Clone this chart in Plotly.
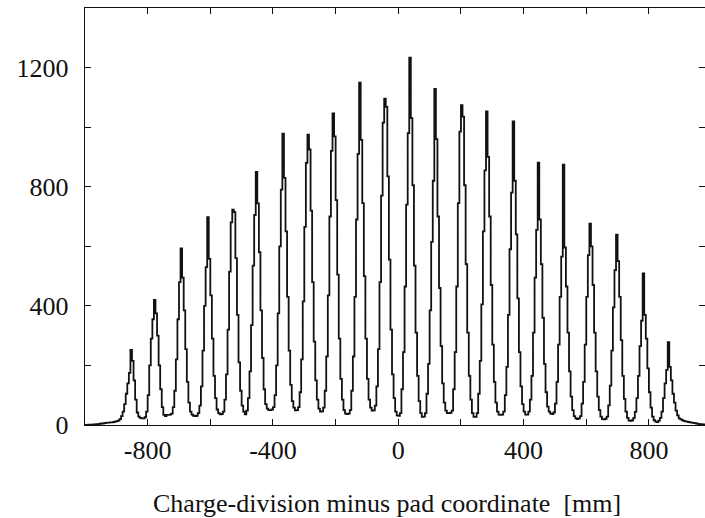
import plotly.graph_objects as go

# Histogram: 5 mm bins starting at -1000 mm (counts)
bin_start_mm = -1000
bin_width_mm = 5

counts_a = [  # bins -1000 .. -485 mm (left tail, peaks 1-5)
    0, 0, 1, 1, 1, 2, 2, 3, 3, 4, 5, 5, 6, 7, 8, 8, 9, 9, 10, 11, 13, 15, 20,
    30, 45, 70, 105, 140, 175, 252, 215, 150, 85, 42, 28, 24, 22,
    22,
    26, 45, 100, 200, 290, 355, 420, 375, 300, 200, 120, 60, 34, 30,
    34, 34, 35,
    38, 60, 115, 220, 355, 480, 593, 495, 385, 255, 145, 75, 45, 35,
    31, 30, 31,
    40, 65, 130, 250, 400, 530, 698, 558, 435, 290, 165, 90, 52, 40,
    36, 37,
    45, 85, 170, 320, 515, 680, 723, 715, 560, 370, 210, 115, 65, 45,
    36,
]
counts_b = [  # bins -485 .. 0 mm (peaks 6-11)
    48, 90, 180, 335, 535, 705, 850, 744, 580, 385, 225, 120, 70, 55,
    50, 50, 52,
    60, 100, 200, 375, 600, 790, 978, 830, 650, 430, 250, 135, 80, 58,
    49, 50,
    60, 110, 220, 415, 665, 880, 975, 925, 720, 480, 280, 150, 85, 55,
    45, 46,
    58, 115, 230, 435, 700, 920, 1046, 969, 755, 505, 290, 155, 85, 50,
    38, 37, 38,
    50, 115, 230, 430, 690, 910, 1149, 957, 745, 500, 290, 155, 85, 58,
    48, 49,
    65, 130, 255, 480, 770, 1015, 1096, 1068, 835, 555, 320, 170, 90, 45,
    32, 31,
]
counts_c = [  # bins 5 .. 495 mm (peaks 12-17)
    40, 120, 245, 465, 740, 980, 1233, 1030, 805, 535, 310, 165, 80, 40,
    27, 28,
    40, 105, 205, 385, 615, 820, 1128, 960, 700, 460, 265, 140, 75, 48,
    40, 40, 41,
    48, 120, 245, 465, 745, 985, 1074, 1035, 805, 540, 310, 165, 85, 40,
    27, 27,
    40, 105, 215, 405, 650, 855, 1053, 900, 700, 470, 270, 145, 75, 45,
    35, 34, 35,
    45, 100, 195, 370, 590, 780, 1019, 820, 640, 425, 245, 130, 70, 45,
    35, 35,
    45, 85, 165, 310, 495, 655, 881, 690, 540, 360, 205, 110, 62, 45,
    38, 37,
]
counts_d = [  # bins 495 .. 1000 mm (peaks 18-22, right tail)
    42, 72, 145, 270, 430, 565, 874, 596, 465, 310, 180, 95, 50, 30,
    22, 20, 22,
    30, 72, 145, 270, 430, 570, 676, 600, 470, 310, 180, 95, 50, 28,
    20, 19, 21,
    28, 66, 132, 250, 395, 520, 639, 550, 430, 285, 165, 88, 45, 24,
    15, 14, 16,
    24, 44, 90, 165, 265, 350, 509, 370, 290, 190, 110, 58, 28, 16,
    11, 10,
    15, 24, 45, 90, 140, 185, 278, 195, 150, 105, 75, 48, 32, 22,
    19, 16, 14, 12, 11, 10, 9, 8, 7, 6, 5, 4, 3, 3, 2, 2, 1, 1, 0, 0,
]

x_tick_vals = [-800, -600, -400, -200, 0, 200, 400, 600, 800]
x_tick_text = ["-800", "", "-400", "", "0", "", "400", "", "800"]
y_tick_vals = [0, 200, 400, 600, 800, 1000, 1200]
y_tick_text = ["0", "", "400", "", "800", "", "1200"]
x_title = "Charge-division minus pad coordinate \u00a0[mm]"

counts = counts_a + counts_b + counts_c + counts_d
edges = [bin_start_mm + bin_width_mm * i for i in range(len(counts) + 1)]
xs = edges
ys = counts + [counts[-1]]

FONT = "Liberation Serif, Times New Roman, serif"
INK = "#111111"

fig = go.Figure()
fig.add_trace(go.Scatter(
    x=xs, y=ys, mode="lines",
    line=dict(color=INK, width=1.8, shape="hv"),
    showlegend=False, hoverinfo="skip",
))
# invisible trace to anchor the right-hand tick axis
fig.add_trace(go.Scatter(x=[xs[0]], y=[0], yaxis="y2", mode="markers",
                         marker=dict(opacity=0), showlegend=False, hoverinfo="skip"))

fig.update_layout(
    width=705, height=518,
    margin=dict(l=85, r=0, t=8, b=93),
    paper_bgcolor="white", plot_bgcolor="white",
    font=dict(family=FONT, size=26, color=INK),
    xaxis=dict(
        range=[-1000, 979], showgrid=False, zeroline=False,
        showline=True, linecolor=INK, linewidth=1.4, mirror="ticks",
        ticks="inside", ticklen=6, tickwidth=1.3, tickcolor=INK,
        tickvals=x_tick_vals, ticktext=x_tick_text,
        tickfont=dict(family=FONT, size=26),
        ticklabelstandoff=2,
    ),
    yaxis=dict(
        range=[0, 1400], showgrid=False, zeroline=False,
        showline=True, linecolor=INK, linewidth=1.4,
        ticks="inside", ticklen=6, tickwidth=1.3, tickcolor=INK,
        tickvals=y_tick_vals, ticktext=y_tick_text,
        tickfont=dict(family=FONT, size=26),
        ticklabelstandoff=10,
    ),
    yaxis2=dict(
        range=[0, 1400], overlaying="y", side="right", anchor="x",
        showgrid=False, zeroline=False, showline=False,
        ticks="inside", ticklen=6, tickwidth=1.3, tickcolor=INK,
        tickvals=y_tick_vals, showticklabels=False,
    ),
    annotations=[dict(
        text=x_title, xref="paper", yref="paper", x=0.487, y=-0.188,
        xanchor="center", yanchor="middle", showarrow=False,
        font=dict(family=FONT, size=26, color=INK),
    )],
)

fig.write_html("out.html")
